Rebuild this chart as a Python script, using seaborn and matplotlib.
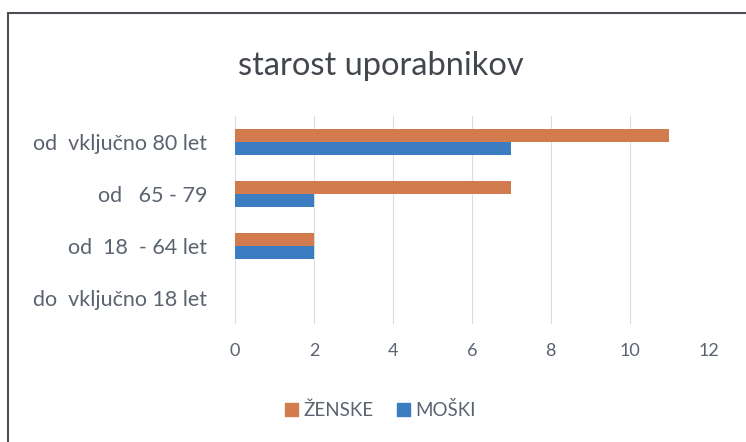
import pandas as pd
import numpy as np
import matplotlib.pyplot as plt
import seaborn as sns
from matplotlib.lines import Line2D

# data
categories = ["od  vključno 80 let", "od   65 - 79", "od  18  - 64 let", "do  vključno 18 let"]
zenske = [11, 7, 2, 0]
moski = [7, 2, 2, 0]
series = ["ŽENSKE", "MOŠKI"]
colors = ["#D27B4F", "#3C7DC2"]
x_ticks = [0, 2, 4, 6, 8, 10, 12]

df = pd.DataFrame({
    "kategorija": categories * 2,
    "spol": [series[0]] * len(categories) + [series[1]] * len(categories),
    "stevilo": zenske + moski,
})

sns.set_style("white")
plt.rcParams["font.family"] = ["Lato", "DejaVu Sans"]
text_col = "#5B6370"

fig = plt.figure(figsize=(7.46, 4.42), dpi=100)
ax = fig.add_axes([0.315, 0.267, 0.635, 0.471])

sns.barplot(data=df, x="stevilo", y="kategorija", hue="spol", order=categories,
            hue_order=series, palette=colors, width=0.5, saturation=1,
            orient="h", ax=ax, legend=False, linewidth=0)

ax.set_xlim(0, 12)
ax.set_xticks(x_ticks)
ax.grid(axis="x", color="#dcdcdc", linewidth=0.8)
ax.set_axisbelow(True)
for s in ax.spines.values():
    s.set_visible(False)
ax.set_xlabel("")
ax.set_ylabel("")
ax.tick_params(axis="x", colors=text_col, labelsize=13, length=0, pad=14)
ax.tick_params(axis="y", colors=text_col, labelsize=15.5, length=0, pad=20)

fig.text(0.51, 0.85, "starost uporabnikov", ha="center", va="center",
         fontsize=23.5, color="#42464d")

handles = [plt.Rectangle((0, 0), 1, 1, color=c) for c in colors]
fig.legend(handles, series, loc="center", bbox_to_anchor=(0.51, 0.072), ncol=2,
           frameon=False, fontsize=13.5, labelcolor=text_col, handlelength=0.7,
           handleheight=0.7, handletextpad=0.3, columnspacing=1.2)

# outer frame of the chart
fig.add_artist(Line2D([0.011, 1.0], [0.971, 0.971], color="#4a4f57", linewidth=1.5))
fig.add_artist(Line2D([0.011, 0.011], [0.0, 0.971], color="#4a4f57", linewidth=1.5))

fig.savefig("out.png", dpi=100)
